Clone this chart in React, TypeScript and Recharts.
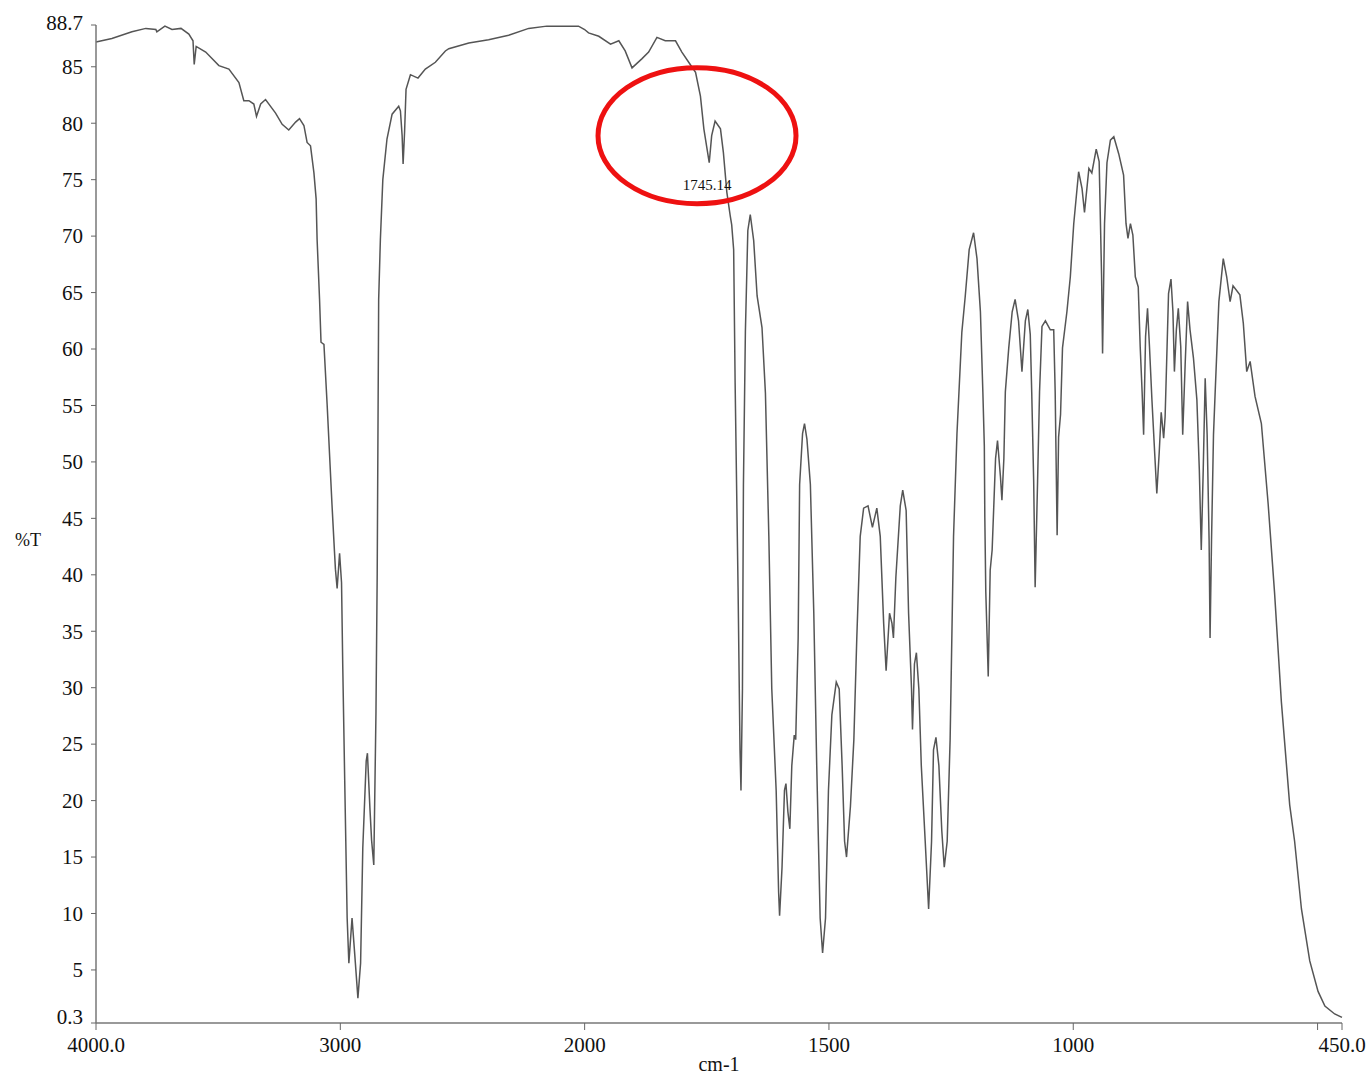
import React from "react";
import {
  LineChart,
  Line,
  XAxis,
  YAxis,
  ReferenceDot,
} from "recharts";

// IR spectrum, %T against wavenumber. The x scale halves its compression below 2000 cm-1.
const highWn = [4000, 3935, 3853, 3796, 3755, 3751, 3718, 3689, 3652, 3620, 3603, 3598, 3590, 3551, 3497, 3456, 3415, 3395, 3374, 3354, 3343, 3326, 3306, 3265, 3238, 3211, 3183, 3167, 3149, 3136, 3122, 3108, 3099, 3095, 3085, 3079, 3067, 3054, 3034, 3024, 3020, 3013, 3003, 2995, 2990, 2982, 2972, 2965, 2952, 2941, 2928, 2917, 2908, 2894, 2889, 2879, 2872, 2863, 2854, 2849, 2843, 2836, 2826, 2809, 2788, 2761, 2754, 2747, 2743, 2737, 2731, 2713, 2682, 2652, 2611, 2570, 2556, 2474, 2393, 2311, 2229, 2155, 2086, 2025];
const highT = [87.2, 87.5, 88.1, 88.4, 88.3, 88.1, 88.6, 88.3, 88.4, 87.9, 87.3, 85.2, 86.8, 86.3, 85.1, 84.8, 83.6, 82.0, 82.0, 81.7, 80.6, 81.7, 82.1, 80.9, 79.9, 79.4, 80.1, 80.4, 79.8, 78.3, 78.0, 75.6, 73.3, 69.7, 64.4, 60.6, 60.4, 55.1, 46.2, 42.1, 40.5, 38.8, 41.9, 39.3, 31.9, 21.8, 9.6, 5.6, 9.6, 6.4, 2.5, 5.6, 15.8, 23.5, 24.2, 19.4, 16.5, 14.3, 27.9, 40.1, 64.4, 69.7, 75.0, 78.6, 80.8, 81.5, 81.1, 78.9, 76.4, 79.2, 83.0, 84.3, 84.0, 84.8, 85.4, 86.4, 86.6, 87.1, 87.4, 87.8, 88.4, 88.6, 88.6, 88.6];

const midWn = [2000, 1992, 1971, 1947, 1930, 1917, 1903, 1883, 1869, 1852, 1835, 1814, 1801, 1787, 1773, 1763, 1756, 1745, 1740, 1733, 1722, 1716, 1709, 1702, 1699, 1695, 1692, 1686, 1682, 1680, 1677, 1675, 1671, 1666, 1661, 1654, 1647, 1637, 1630, 1623, 1617, 1608, 1603, 1601, 1596, 1591, 1588, 1584, 1580, 1576, 1571, 1568, 1563, 1560, 1554, 1550, 1545, 1538, 1531, 1525, 1518, 1513, 1507, 1501, 1494, 1485, 1479, 1473, 1468, 1464, 1456, 1449, 1443, 1436, 1429, 1420, 1411, 1402, 1395, 1388, 1383, 1379, 1376, 1371, 1368, 1363, 1354, 1349, 1342, 1337, 1331, 1329, 1325, 1321, 1316, 1311, 1303, 1296, 1290, 1286, 1281, 1275, 1269, 1264, 1258, 1252, 1245, 1238, 1228, 1221, 1213, 1204];
const midT = [88.3, 88.0, 87.7, 87.0, 87.3, 86.4, 84.9, 85.7, 86.3, 87.6, 87.3, 87.3, 86.3, 85.4, 84.5, 82.4, 79.5, 76.5, 78.9, 80.2, 79.5, 77.4, 73.9, 71.8, 71.0, 68.8, 57.0, 38.9, 24.5, 20.9, 29.9, 48.0, 61.5, 70.5, 71.9, 69.6, 64.7, 61.9, 56.1, 43.4, 29.9, 20.9, 11.9, 9.8, 14.1, 20.9, 21.5, 19.0, 17.5, 23.1, 25.8, 25.4, 34.4, 48.0, 52.5, 53.4, 52.0, 48.0, 36.6, 23.1, 9.6, 6.5, 9.6, 20.9, 27.6, 30.5, 29.9, 23.1, 16.4, 15.0, 19.5, 25.4, 34.4, 43.4, 45.9, 46.1, 44.2, 45.9, 43.4, 35.7, 31.5, 34.4, 36.6, 35.7, 34.4, 39.8, 46.1, 47.5, 45.7, 36.6, 29.9, 26.3, 32.1, 33.1, 29.9, 23.1, 16.4, 10.4, 16.4, 24.5, 25.6, 23.1, 17.3, 14.1, 16.4, 25.4, 43.4, 52.5, 61.5, 64.7, 68.8, 70.3];

const lowWn = [1197, 1190, 1185, 1182, 1181, 1179, 1174, 1170, 1166, 1159, 1155, 1149, 1146, 1142, 1139, 1132, 1125, 1119, 1112, 1105, 1098, 1093, 1088, 1085, 1081, 1078, 1073, 1069, 1064, 1057, 1047, 1040, 1037, 1033, 1030, 1026, 1022, 1013, 1006, 999, 989, 982, 977, 968, 962, 953, 947, 942, 940, 936, 931, 924, 917, 907, 897, 892, 888, 883, 878, 873, 867, 863, 859, 856, 852, 848, 844, 839, 833, 829, 824, 820, 815, 812, 808, 805, 800, 796, 793, 789, 785, 780, 776, 771, 766, 761, 754, 747, 742, 738, 734, 730, 726, 722, 720, 717, 713, 709, 702, 693, 686, 679, 673, 659, 652, 645, 638, 628, 615, 601, 588, 574, 557, 547, 533, 516, 499, 485, 465, 450];
const lowT = [68.0, 63.3, 56.2, 51.4, 45.1, 38.5, 31.0, 40.4, 42.2, 50.3, 51.9, 48.7, 46.6, 50.3, 56.2, 60.1, 63.3, 64.4, 62.5, 58.0, 62.5, 63.5, 61.3, 56.2, 48.3, 38.9, 48.3, 56.2, 62.0, 62.5, 61.7, 61.7, 56.2, 43.5, 52.2, 54.2, 60.1, 63.3, 66.4, 71.1, 75.7, 74.2, 72.1, 76.0, 75.6, 77.7, 76.6, 66.4, 59.6, 71.1, 76.5, 78.5, 78.8, 77.3, 75.4, 71.1, 69.8, 71.1, 70.1, 66.4, 65.5, 60.2, 56.1, 52.4, 61.1, 63.6, 60.2, 55.5, 50.5, 47.2, 50.9, 54.4, 52.1, 54.0, 60.2, 64.9, 66.2, 63.3, 58.0, 61.7, 63.6, 60.2, 52.4, 58.6, 64.2, 61.7, 59.2, 55.5, 49.3, 42.2, 49.3, 57.4, 52.4, 43.1, 34.4, 43.1, 52.4, 56.8, 64.2, 68.0, 66.4, 64.2, 65.6, 64.8, 62.3, 58.0, 58.9, 55.8, 53.4, 46.2, 38.4, 28.7, 19.6, 16.4, 10.4, 5.8, 3.1, 1.8, 1.1, 0.8];

const xTickWn = [4000, 3000, 2000, 1500, 1000, 500, 450];
const xTickText = ["4000.0", "3000", "2000", "1500", "1000", "", "450.0"];
const yTicks = [0.3, 5, 10, 15, 20, 25, 30, 35, 40, 45, 50, 55, 60, 65, 70, 75, 80, 85, 88.7];

const peakWn = 1745;
const peakT = 76.5;
const peakLabel = "1745.14";
const circleWn = 1770;
const circleT = 78.9;

// 4000-2000 takes 1 unit per cm-1, 2000-450 takes 2
const toPos = (w: number) => (w >= 2000 ? 4000 - w : 2000 + (2000 - w) * 2);

const data = [
  ...highWn.map((w, i) => ({ pos: toPos(w), t: highT[i] })),
  ...midWn.map((w, i) => ({ pos: toPos(w), t: midT[i] })),
  ...lowWn.map((w, i) => ({ pos: toPos(w), t: lowT[i] })),
];

const serif = "'Liberation Serif', 'DejaVu Serif', serif";

// the bottom label sits a little above its tick so it clears "4000.0"
function YTick(props: any) {
  const { x, y, payload } = props;
  const lift = payload.value === yTicks[0] ? -6 : payload.value === yTicks[yTicks.length - 1] ? -2 : 0;
  return (
    <text
      x={x}
      y={y + lift}
      dy="0.35em"
      textAnchor="end"
      fill="#111"
      fontSize={21}
      fontFamily={serif}
    >
      {payload.value}
    </text>
  );
}

export default function App() {
  return (
    <div style={{ position: "absolute", left: 0, top: 0, width: 1371, height: 1077, background: "#fff" }}>
      <LineChart
        width={1371}
        height={1077}
        data={data}
        margin={{ top: 25, right: 29, left: 15, bottom: 24 }}
      >
        <XAxis
          dataKey="pos"
          type="number"
          domain={[0, toPos(450)]}
          ticks={xTickWn.map(toPos)}
          interval={0}
          tickFormatter={(v: number) => xTickText[xTickWn.map(toPos).indexOf(v)] ?? ""}
          height={30}
          tickSize={7}
          tickMargin={7}
          axisLine={{ stroke: "#777", strokeWidth: 1.5 }}
          tickLine={{ stroke: "#666" }}
          tick={{ fill: "#111", fontSize: 21, fontFamily: serif }}
          label={{
            value: "cm-1",
            position: "bottom",
            offset: 4,
            fill: "#111",
            fontSize: 20,
            fontFamily: serif,
          }}
        />
        <YAxis
          type="number"
          domain={[0.3, 88.7]}
          ticks={yTicks}
          interval={0}
          width={81}
          tickSize={5}
          tickMargin={8}
          axisLine={{ stroke: "#777", strokeWidth: 1.5 }}
          tickLine={{ stroke: "#666" }}
          tick={<YTick />}
          label={{
            value: "%T",
            position: "insideLeft",
            offset: 0,
            dy: 16,
            fill: "#111",
            fontSize: 18,
            fontFamily: serif,
          }}
        />
        <Line
          type="linear"
          dataKey="t"
          stroke="#555"
          strokeWidth={1.5}
          dot={false}
          isAnimationActive={false}
        />
        <ReferenceDot
          x={toPos(peakWn)}
          y={peakT}
          ifOverflow="visible"
          shape={(p: any) => (
            <text
              x={p.cx - 2}
              y={p.cy + 27}
              textAnchor="middle"
              fill="#111"
              fontSize={15}
              fontFamily={serif}
            >
              {peakLabel}
            </text>
          )}
        />
        <ReferenceDot
          x={toPos(circleWn)}
          y={circleT}
          ifOverflow="visible"
          shape={(p: any) => (
            <ellipse cx={p.cx} cy={p.cy} rx={99} ry={68} fill="none" stroke="#ee1111" strokeWidth={5} />
          )}
        />
      </LineChart>
    </div>
  );
}
